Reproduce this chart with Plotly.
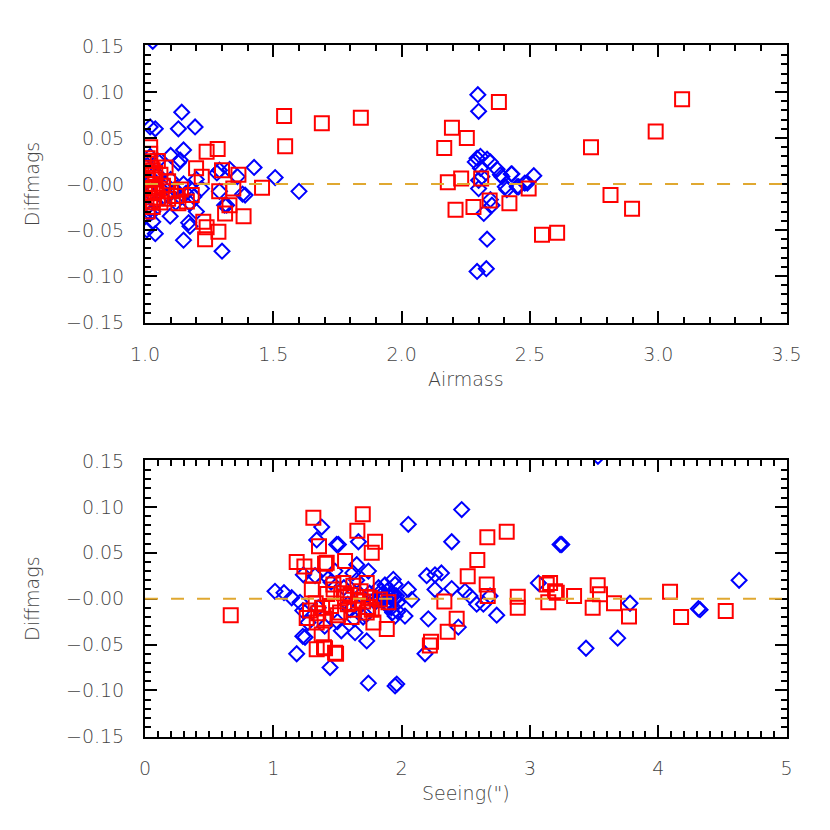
import plotly.graph_objects as go
from plotly.subplots import make_subplots

# Diffmags against airmass (top panel)
airmass_blue = [1.03, 1.143, 1.02, 1.04, 1.13, 1.195, 1.15, 1.10, 1.137, 1.13, 1.29, 1.425,
                1.507, 1.60, 1.38, 1.29, 1.175, 1.098, 1.17, 1.175, 1.03, 1.04, 1.15, 1.30,
                1.31, 1.02, 1.12, 1.137, 1.20, 1.36, 1.39, 1.318, 1.19, 1.007,
                1.01, 1.02, 1.03, 1.04, 1.05, 1.06, 1.02, 1.07, 1.08, 1.01, 1.03, 1.10,
                1.12, 1.15, 1.16, 1.20, 1.22, 1.28, 1.33, 1.05, 1.09,
                2.297, 2.30, 2.294, 2.307, 2.333, 2.287, 2.346, 2.372, 2.307, 2.391, 2.43,
                2.515, 2.48, 2.456, 2.404, 2.41, 2.30, 2.313, 2.30, 2.346, 2.352, 2.32,
                2.333, 2.294, 2.33, 2.49, 2.427, 2.385, 2.45]
diff_blue_top = [0.155, 0.078, 0.062, 0.060, 0.060, 0.062, 0.037, 0.031, 0.026, 0.023, 0.015,
                 0.018, 0.007, -0.008, -0.011, -0.008, -0.021, -0.035, -0.042, -0.046, -0.041,
                 -0.054, -0.061, -0.073, -0.023, -0.032, -0.007, -0.014, -0.030, 0.008, -0.012,
                 -0.023, -0.014, -0.050,
                 0.020, -0.010, 0.005, -0.020, 0.010, -0.005, 0.030, -0.015, 0.000, -0.025,
                 -0.030, 0.005, -0.020, 0.000, -0.010, 0.005, -0.005, 0.012, 0.016, 0.025,
                 -0.012,
                 0.097, 0.079, 0.028, 0.030, 0.027, 0.024, 0.024, 0.016, 0.017, 0.008, 0.011,
                 0.009, 0.001, -0.003, -0.003, -0.006, 0.004, 0.008, -0.005, -0.017, -0.023,
                 -0.032, -0.060, -0.095, -0.092, 0.001, 0.011, 0.010, -0.003]

airmass_red = [1.689, 1.841, 2.379, 2.196, 2.254, 2.166, 2.18, 2.232, 2.31, 2.495, 2.343, 2.42,
               2.28, 2.21, 2.547, 2.606, 3.093, 2.99, 2.738, 2.814, 2.898, 1.542, 1.546, 1.456,
               1.24, 1.283, 1.199, 1.221, 1.30, 1.364, 1.344, 1.289, 1.182, 1.163, 1.13, 1.312,
               1.329, 1.384, 1.227, 1.24, 1.286, 1.234, 1.02,
               1.01, 1.02, 1.03, 1.01, 1.04, 1.02, 1.03, 1.01, 1.05, 1.02, 1.03, 1.01, 1.06,
               1.07, 1.08, 1.04, 1.05, 1.10, 1.12, 1.14, 1.09, 1.02, 1.03, 1.06, 1.01, 1.04,
               1.00, 1.09]
diff_red_top = [0.066, 0.072, 0.089, 0.061, 0.050, 0.039, 0.002, 0.006, 0.006, -0.005, -0.018,
                -0.021, -0.025, -0.028, -0.055, -0.053, 0.092, 0.057, 0.040, -0.012, -0.027,
                0.074, 0.041, -0.004, 0.035, 0.038, 0.017, 0.008, 0.015, 0.010, -0.005, -0.008,
                -0.012, -0.019, -0.021, -0.032, -0.023, -0.035, -0.041, -0.047, -0.052, -0.060,
                0.040,
                0.028, 0.022, 0.015, 0.010, 0.005, 0.000, -0.005, -0.010, -0.015, -0.020,
                -0.025, -0.030, 0.010, -0.002, 0.018, -0.008, 0.025, -0.008, -0.013, -0.006,
                0.003, 0.033, -0.018, -0.020, 0.004, 0.012, -0.004, -0.016]

# Diffmags against seeing (bottom panel)
seeing_blue = [1.013, 1.083, 1.143, 1.377, 1.338, 1.494, 1.182, 1.442, 1.247, 1.234, 1.325,
               1.507, 1.663, 1.728, 1.741, 1.949, 1.637, 1.65, 1.741, 1.935, 1.208, 1.23, 1.27,
               1.23, 2.468, 2.052, 2.39, 3.235, 2.195, 2.26, 2.31, 2.26, 2.39, 2.494, 2.533,
               2.585, 2.637, 2.689, 2.741, 2.208, 2.442, 2.182, 1.949, 2.052, 2.078, 2.026,
               1.949, 3.066, 1.962, 3.53, 3.248, 3.78, 4.313, 4.326, 4.63, 3.437, 3.684,
               1.85, 1.88, 1.90, 1.92, 1.95, 1.87, 1.93, 1.96, 1.80, 1.84, 1.89, 1.91,
               1.55, 1.60, 1.65, 1.70, 1.75, 1.50, 1.45, 1.40, 1.58, 1.68, 1.78, 1.62, 1.72,
               1.35, 1.48, 1.53, 1.82, 1.97, 1.43, 1.63,
               1.86, 1.90, 1.94, 1.88, 1.92, 1.83, 1.97, 1.91]
diff_blue_bot = [0.008, 0.0065, 0.001, 0.078, 0.064, 0.059, -0.060, -0.075, -0.042, 0.026,
                 0.025, 0.059, 0.062, -0.046, -0.092, -0.095, -0.037, 0.037, 0.030, 0.021,
                 -0.004, -0.013, -0.026, -0.041, 0.097, 0.081, 0.062, 0.059, 0.025, 0.026,
                 0.028, 0.010, 0.011, 0.008, 0.003, -0.006, -0.006, 0.003, -0.018, -0.022,
                 -0.031, -0.060, 0.0155, 0.010, -0.001, -0.019, -0.019, 0.017, -0.093, 0.155,
                 0.059, -0.005, -0.011, -0.012, 0.020, -0.054, -0.043,
                 0.005, -0.005, 0.010, -0.010, 0.000, 0.015, -0.015, 0.003, -0.003, 0.008,
                 -0.008, 0.002, 0.012, -0.012, 0.020, -0.020, 0.006, -0.025, 0.018, -0.030,
                 -0.006, 0.004, -0.002, 0.028, -0.018, -0.010, 0.030, -0.035, 0.012, -0.014,
                 0.022, -0.022,
                 0.001, -0.002, 0.004, -0.006, 0.006, -0.001, -0.004, 0.002]

seeing_red = [0.668, 1.312, 1.356, 1.182, 1.242, 1.416, 1.31, 1.30, 1.286, 1.338, 1.377,
              1.338, 1.403, 1.481, 1.697, 1.655, 1.793, 1.767, 1.403, 1.559, 1.468, 1.546,
              1.624, 1.728, 1.754, 1.832, 1.897, 1.26, 1.728, 1.767, 1.884, 1.78, 1.395, 1.489,
              2.819, 2.668, 2.59, 2.515, 2.663, 2.671, 2.333, 2.905, 2.905, 3.131, 3.196,
              3.143, 2.429, 2.359, 2.229, 2.22, 3.157, 3.209, 3.344, 3.528, 3.546, 3.489,
              3.655, 3.772, 4.092, 4.178, 4.526,
              1.33, 1.38, 1.45, 1.52, 1.58, 1.63, 1.70, 1.42, 1.50, 1.56, 1.61, 1.68, 1.74,
              1.35, 1.47, 1.55, 1.66, 1.40, 1.60]
diff_red_bot = [-0.018, 0.088, 0.057, 0.040, 0.035, 0.039, 0.025, 0.010, -0.013, -0.026,
                -0.039, -0.055, -0.054, -0.059, 0.092, 0.074, 0.062, 0.050, 0.038, 0.041,
                0.0155, 0.017, 0.014, 0.017, 0.001, -0.001, -0.004, -0.021, -0.015, -0.012,
                -0.033, -0.026, -0.053, -0.060,
                0.073, 0.067, 0.042, 0.0245, 0.0155, 0.003, -0.003, 0.002, -0.010, 0.0155,
                0.008, -0.004, -0.022, -0.036, -0.047, -0.051, 0.017, 0.0065, 0.003, 0.0145,
                0.0047, -0.010, -0.005, -0.0195, 0.0076, -0.020, -0.0134,
                -0.005, -0.010, -0.008, -0.015, -0.006, -0.012, -0.003, 0.005, -0.018,
                0.002, -0.020, 0.008, -0.009, -0.016, 0.010, 0.006, -0.002, -0.022, 0.004]

diff_ticks = [0.15, 0.10, 0.05, 0.0, -0.05, -0.10, -0.15]
diff_labels = ["0.15", "0.10", "0.05", "\u22120.00", "\u22120.05", "\u22120.10", "\u22120.15"]
airmass_ticks = [1.0, 1.5, 2.0, 2.5, 3.0, 3.5]
airmass_labels = ["1.0", "1.5", "2.0", "2.5", "3.0", "3.5"]
seeing_ticks = [0, 1, 2, 3, 4, 5]
seeing_labels = ["0", "1", "2", "3", "4", "5"]

# thin, grey text like the original vector font
FONT = dict(family="DejaVu Sans", size=19, color="#444444", weight=200)

fig = make_subplots(rows=2, cols=1)

panels = [(1, airmass_blue, diff_blue_top, airmass_red, diff_red_top),
          (2, seeing_blue, diff_blue_bot, seeing_red, diff_red_bot)]
for row, xb, yb, xr, yr in panels:
    fig.add_trace(go.Scatter(x=xb, y=yb, mode="markers",
                             marker=dict(symbol="diamond-open", size=11.5, color="#0000ff",
                                         line=dict(width=2, color="#0000ff"))),
                  row=row, col=1)
    fig.add_trace(go.Scatter(x=xr, y=yr, mode="markers",
                             marker=dict(symbol="square-open", size=14, color="#ff0000",
                                         line=dict(width=2, color="#ff0000"))),
                  row=row, col=1)
    fig.add_hline(y=0, line=dict(color="#e0a830", width=2, dash="13px,13px"), row=row, col=1)

axis_common = dict(showgrid=False, zeroline=False, showline=True, linecolor="black",
                   linewidth=2, mirror="allticks", ticks="inside", ticklen=12, tickwidth=2,
                   tickcolor="black", tickfont=FONT, automargin=False)

fig.update_yaxes(axis_common)
fig.update_xaxes(axis_common)

for row in (1, 2):
    fig.update_yaxes(range=[-0.151, 0.151], tickmode="array", tickvals=diff_ticks,
                     ticktext=diff_labels, ticklabelstandoff=15,
                     minor=dict(tickmode="linear", tick0=0, dtick=0.01, ticklen=6,
                                ticks="inside", tickwidth=2, tickcolor="black"),
                     title=dict(text="Diffmags", font=FONT, standoff=21),
                     row=row, col=1)

fig.update_xaxes(range=[1.0, 3.5], tickmode="array", tickvals=airmass_ticks,
                 ticktext=airmass_labels, ticklabelstandoff=13,
                 minor=dict(tickmode="linear", tick0=0, dtick=0.1, ticklen=6, ticks="inside",
                            tickwidth=2, tickcolor="black"),
                 title=dict(text="Airmass", font=FONT, standoff=9), row=1, col=1)
fig.update_xaxes(range=[0, 5], tickmode="array", tickvals=seeing_ticks,
                 ticktext=seeing_labels, ticklabelstandoff=13,
                 minor=dict(tickmode="linear", tick0=0, dtick=0.1, ticklen=6, ticks="inside",
                            tickwidth=2, tickcolor="black"),
                 title=dict(text='Seeing(")', font=FONT, standoff=9), row=2, col=1)

# the page body adds an 8px offset, so the domains are shifted to compensate
fig.update_layout(
    width=830, height=830,
    margin=dict(l=0, r=0, t=0, b=0),
    plot_bgcolor="white", paper_bgcolor="white",
    showlegend=False,
    xaxis=dict(domain=[0.1651, 0.9380]),
    xaxis2=dict(domain=[0.1651, 0.9380]),
    yaxis=dict(domain=[0.6205, 0.9554]),
    yaxis2=dict(domain=[0.1213, 0.4554]),
)

fig.write_html("out.html")
